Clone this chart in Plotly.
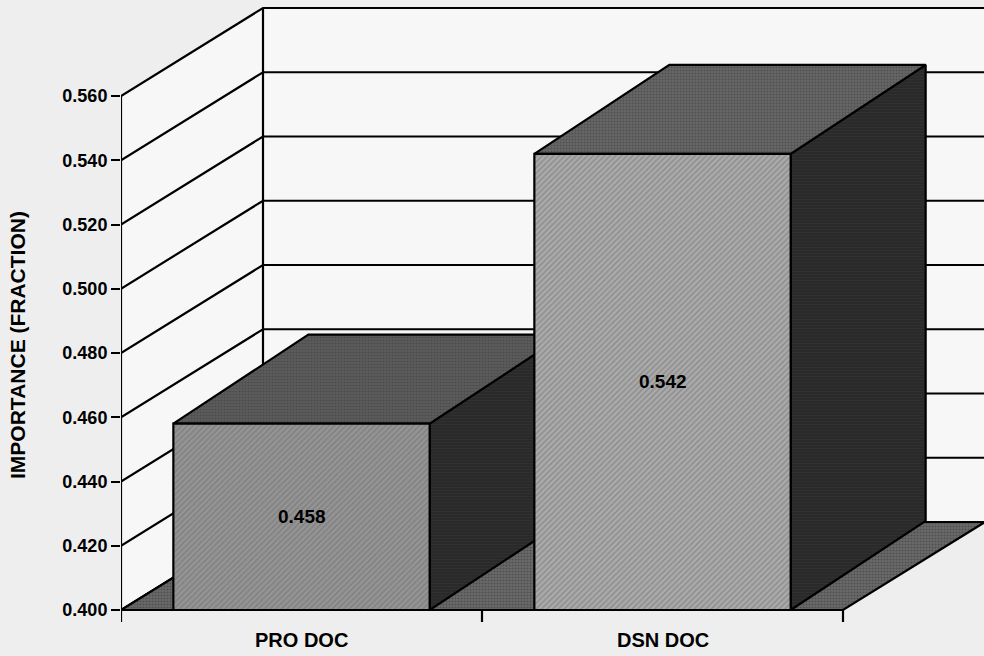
import plotly.graph_objects as go

# ---------------- data ----------------
categories = ["PRO DOC", "DSN DOC"]
values = [0.458, 0.542]
value_labels = ["0.458", "0.542"]
y_ticks = [0.400, 0.420, 0.440, 0.460, 0.480, 0.500, 0.520, 0.540, 0.560]
y_tick_labels = ["0.400", "0.420", "0.440", "0.460", "0.480", "0.500", "0.520", "0.540", "0.560"]
y_title = "IMPORTANCE (FRACTION)"

# ---------------- style / geometry constants ----------------
W, H = 984, 656
ML = 121
MB = 0
PLOT_W = W - ML
PX_X = 361.0          # pixels per category unit
PX_Y = 3212.5         # pixels per value unit
BASE = y_ticks[0]
TOP = y_ticks[-1]
BASE_PX = 610         # pixel row of the base line (from top)

WALL_DX, WALL_DY = 142 / PX_X, 88 / PX_Y
BAR_DX, BAR_DY = 135 / PX_X, 89 / PX_Y
BAR_W = 0.71
TICK_LEN = 12 / PX_Y

FONT = "Liberation Sans, Arial, sans-serif"
PAPER = "#eeeeee"
WALL = "#f7f7f7"
LW = 2.2

positions = list(range(len(categories)))
XL = positions[0] - 0.5
XR = positions[-1] + 0.5

fig = go.Figure()


def poly(xs, ys, fill, line_w=LW, pattern=None):
    kw = dict(x=xs + [xs[0]], y=ys + [ys[0]], mode="lines", fill="toself",
              fillcolor=fill, line=dict(color="black", width=line_w),
              hoverinfo="skip", showlegend=False)
    if pattern:
        kw["fillpattern"] = pattern
    fig.add_trace(go.Scatter(**kw))


# walls
poly([XL, XL, XL + WALL_DX, XL + WALL_DX],
     [BASE, TOP, TOP + WALL_DY, BASE + WALL_DY], WALL, line_w=0)
poly([XL + WALL_DX, XL + WALL_DX, XR + WALL_DX, XR + WALL_DX],
     [BASE + WALL_DY, TOP + WALL_DY, TOP + WALL_DY, BASE + WALL_DY], WALL, line_w=0)

# grid lines on left and back walls
gx, gy = [], []
for v in y_ticks:
    gx += [XL, XL + WALL_DX, XR + WALL_DX, None]
    gy += [v, v + WALL_DY, v + WALL_DY, None]
gx += [XL, XL, None, XL + WALL_DX, XL + WALL_DX, None]
gy += [BASE, TOP, None, BASE + WALL_DY, TOP + WALL_DY, None]
fig.add_trace(go.Scatter(x=gx, y=gy, mode="lines", line=dict(color="black", width=LW),
                         hoverinfo="skip", showlegend=False))

# floor
poly([XL, XR, XR + WALL_DX, XL + WALL_DX],
     [BASE, BASE, BASE + WALL_DY, BASE + WALL_DY], "#626262",
     pattern=dict(shape=".", bgcolor="#6a6a6a", fgcolor="#363636", size=3, solidity=0.4))

# x tick marks at category boundaries
tx, ty = [], []
for b in [p - 0.5 for p in positions] + [XR]:
    tx += [b, b, None]
    ty += [BASE, BASE - TICK_LEN, None]
fig.add_trace(go.Scatter(x=tx, y=ty, mode="lines", line=dict(color="black", width=LW),
                         hoverinfo="skip", showlegend=False))

front_bg = ["#949494", "#aaaaaa"]
top_bg = ["#5c5c5c", "#666666"]
for i, (p, v) in enumerate(zip(positions, values)):
    x0, x1 = p - BAR_W / 2, p + BAR_W / 2
    # side
    poly([x1, x1 + BAR_DX, x1 + BAR_DX, x1], [BASE, BASE + BAR_DY, v + BAR_DY, v], "#2a2a2a",
         pattern=dict(shape="-", bgcolor="#2a2a2a", fgcolor="#383838", size=3, solidity=0.3))
    # top
    poly([x0, x1, x1 + BAR_DX, x0 + BAR_DX], [v, v, v + BAR_DY, v + BAR_DY], top_bg[i],
         pattern=dict(shape=".", bgcolor=top_bg[i], fgcolor="#3a3a3a", size=3, solidity=0.35))
    # front
    poly([x0, x1, x1, x0], [BASE, BASE, v, v], front_bg[i],
         pattern=dict(shape="/", bgcolor=front_bg[i], fgcolor="#666666", size=4, solidity=0.3))
    fig.add_annotation(x=p, y=(BASE + v) / 2, text=value_labels[i], showarrow=False,
                       font=dict(family=FONT, size=19, color="black", weight="bold"),
                       xanchor="center", yanchor="middle")
    fig.add_annotation(x=p, y=BASE - 30 / PX_Y, text=categories[i], showarrow=False,
                       font=dict(family=FONT, size=20, color="black", weight="bold"),
                       xanchor="center", yanchor="middle")

fig.add_annotation(xref="paper", yref="y", x=(18 - ML) / PLOT_W, y=0.4825, text=y_title,
                   textangle=-90, showarrow=False, xanchor="center", yanchor="middle",
                   font=dict(family=FONT, size=21, color="black", weight="bold"))

fig.update_layout(
    width=W, height=H,
    margin=dict(l=ML, r=0, t=0, b=MB, pad=0),
    paper_bgcolor=PAPER, plot_bgcolor=PAPER,
    showlegend=False,
    xaxis=dict(range=[XL, XL + PLOT_W / PX_X], visible=False, fixedrange=True),
    yaxis=dict(range=[BASE - (H - BASE_PX) / PX_Y, BASE + BASE_PX / PX_Y],
               tickvals=y_ticks, ticktext=y_tick_labels, ticks="outside", ticklen=9,
               tickwidth=2, tickcolor="black", showgrid=False, zeroline=False,
               showline=False, fixedrange=True,
               tickfont=dict(family=FONT, size=18, color="black", weight="bold")),
)

fig.write_html(
    "out.html",
    config={"displayModeBar": False, "staticPlot": True},
    post_script="document.body.style.margin='0px';document.body.style.overflow='hidden';"
                "document.body.style.background='#eeeeee';",
)
